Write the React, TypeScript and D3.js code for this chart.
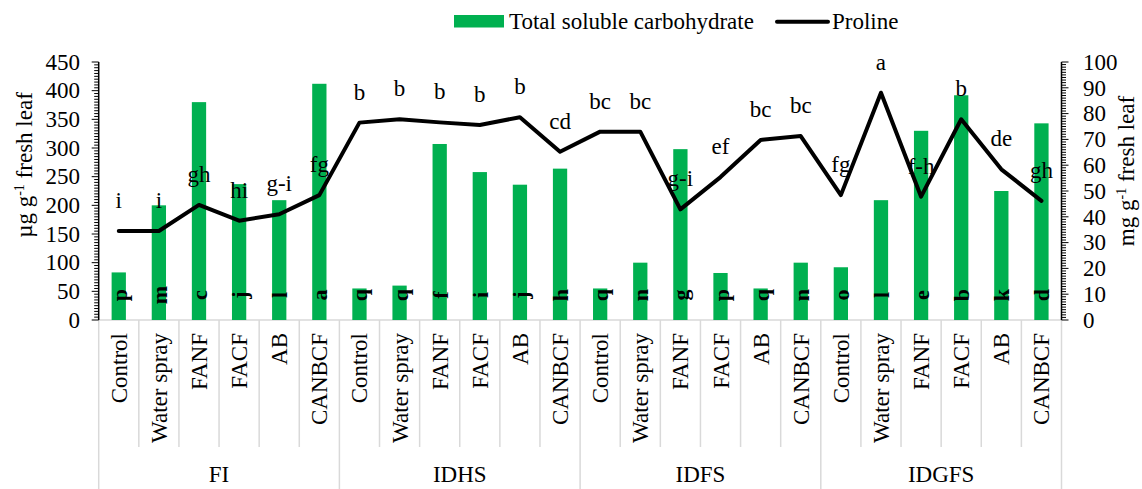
import React from "react";
import * as d3 from "d3";

const groups = ["FI", "IDHS", "IDFS", "IDGFS"];
const treatments = ["Control", "Water spray", "FANF", "FACF", "AB", "CANBCF"];

const carbohydrate = [
  83, 200, 380, 237, 209, 412,
  55, 60, 307, 258, 236, 264,
  55, 100, 298, 82, 55, 100,
  92, 209, 330, 392, 225, 343,
];
const proline = [
  34.5, 34.5, 44.6, 38.5, 41, 48.4,
  76.5, 77.8, 76.6, 75.6, 78.6, 65.2,
  73, 73, 42.9, 55.4, 69.8, 71.3,
  48.4, 88.1, 47.8, 77.8, 58.4, 46.2,
];
const carbLetters = [
  "p", "m", "c", "j", "l", "a",
  "q", "q", "f", "i", "j", "h",
  "q", "n", "g", "p", "q", "n",
  "o", "l", "e", "b", "k", "d",
];
const prolineLetters = [
  "i", "i", "gh", "hi", "g-i", "fg",
  "b", "b", "b", "b", "b", "cd",
  "bc", "bc", "g-i", "ef", "bc", "bc",
  "fg", "a", "f-h", "b", "de", "gh",
];
const leftTicks = [0, 50, 100, 150, 200, 250, 300, 350, 400, 450];
const rightTicks = [0, 10, 20, 30, 40, 50, 60, 70, 80, 90, 100];

const W = 1142;
const H = 489;
const FONT = '"Liberation Serif", "DejaVu Serif", serif';
const GREEN = "#00B050";
const GRID = "#d9d9d9";

export default function App() {
  const n = groups.length * treatments.length;
  const idx = d3.range(n);
  const x = d3.scaleBand<number>().domain(idx).range([98.7, 1061.5]).padding(0);
  const bw = x.bandwidth();
  const barW = bw * 0.356;
  const yL = d3.scaleLinear().domain([0, 450]).range([320, 62]);
  const yR = d3.scaleLinear().domain([0, 100]).range([320, 62]);
  const cx = (i: number) => (x(i) as number) + bw / 2;

  const line = d3
    .line<number>()
    .x((_, i) => cx(i))
    .y((d) => yR(d));

  const leftMinor = d3.range(0, 451, 5);
  const rightMinor = d3.range(0, 101, 1);
  const x0 = x.range()[0];
  const x1 = x.range()[1];

  return (
    <svg
      width={W}
      height={H}
      style={{ position: "absolute", left: 0, top: 0, background: "#fff", fontFamily: FONT }}
    >
      <rect x={0} y={0} width={W} height={H} fill="#fff" />
      {/* legend */}
      <rect x={454} y={15} width={50} height={12.5} fill={GREEN} />
      <text x={509} y={29} fontSize={23} fill="#000">Total soluble carbohydrate</text>
      <line x1={777} x2={828} y1={21.7} y2={21.7} stroke="#000" strokeWidth={4} strokeLinecap="round" />
      <text x={832} y={29} fontSize={23} fill="#000">Proline</text>

      {/* category axis grid */}
      <line x1={x0} x2={x1} y1={320} y2={320} stroke={GRID} strokeWidth={1.5} />
      {d3.range(n + 1).map((i) => {
        const xx = i < n ? (x(i) as number) : x1;
        const isGroup = i % treatments.length === 0;
        return (
          <line
            key={"sep" + i}
            x1={xx}
            x2={xx}
            y1={320}
            y2={isGroup ? H : 447}
            stroke={GRID}
            strokeWidth={1.5}
          />
        );
      })}

      {/* bars */}
      {carbohydrate.map((v, i) => (
        <rect
          key={"b" + i}
          x={cx(i) - barW / 2}
          y={yL(v)}
          width={barW}
          height={yL(0) - yL(v)}
          fill={GREEN}
        />
      ))}
      {carbLetters.map((t, i) => (
        <text
          key={"bl" + i}
          transform={`translate(${cx(i) + 8},${295}) rotate(-90)`}
          textAnchor="middle"
          fontSize={22}
          fontWeight="bold"
          fill="#000"
        >
          {t}
        </text>
      ))}

      {/* proline letters */}
      {prolineLetters.map((t, i) => (
        <text
          key={"pl" + i}
          x={cx(i)}
          y={yR(proline[i]) - 23}
          textAnchor="middle"
          fontSize={23}
          fill="#000"
        >
          {t}
        </text>
      ))}

      {/* proline line */}
      <path d={line(proline) || ""} fill="none" stroke="#000" strokeWidth={4} strokeLinejoin="round" strokeLinecap="round" />

      {/* left axis */}
      <line x1={x0} x2={x0} y1={yL(450)} y2={yL(0)} stroke="#000" strokeWidth={1.5} />
      {leftMinor.map((v) => (
        <line key={"lm" + v} x1={x0 - (v % 50 === 0 ? 7 : 4.5)} x2={x0} y1={yL(v)} y2={yL(v)} stroke="#000" strokeWidth={1} />
      ))}
      {leftTicks.map((v) => (
        <text key={"lt" + v} x={80} y={yL(v)} dy="0.34em" textAnchor="end" fontSize={23} fill="#000">
          {v}
        </text>
      ))}

      {/* right axis */}
      <line x1={x1} x2={x1} y1={yR(100)} y2={yR(0)} stroke="#000" strokeWidth={1.5} />
      {rightMinor.map((v) => (
        <line key={"rm" + v} x1={x1} x2={x1 + (v % 10 === 0 ? 7 : 4.5)} y1={yR(v)} y2={yR(v)} stroke="#000" strokeWidth={1} />
      ))}
      {rightTicks.map((v) => (
        <text key={"rt" + v} x={1083} y={yR(v)} dy="0.34em" textAnchor="start" fontSize={23} fill="#000">
          {v}
        </text>
      ))}

      {/* axis titles */}
      <text transform="translate(32,165) rotate(-90)" textAnchor="middle" fontSize={23} fill="#000">
        µg g<tspan dy={-8} fontSize={14}>-1</tspan>
        <tspan dy={8}> fresh leaf</tspan>
      </text>
      <text transform="translate(1134,171) rotate(-90)" textAnchor="middle" fontSize={23} fill="#000">
        mg g<tspan dy={-8} fontSize={14}>-1</tspan>
        <tspan dy={8}> fresh leaf</tspan>
      </text>

      {/* category labels */}
      {idx.map((i) => (
        <text
          key={"cl" + i}
          transform={`translate(${cx(i) + 8},333) rotate(-90)`}
          textAnchor="end"
          fontSize={23}
          fill="#000"
        >
          {treatments[i % treatments.length]}
        </text>
      ))}
      {groups.map((g, gi) => {
        const a = x(gi * treatments.length) as number;
        const gx = a + (bw * treatments.length) / 2;
        return (
          <text key={"g" + g} x={gx} y={482} textAnchor="middle" fontSize={23} fill="#000">
            {g}
          </text>
        );
      })}
    </svg>
  );
}
